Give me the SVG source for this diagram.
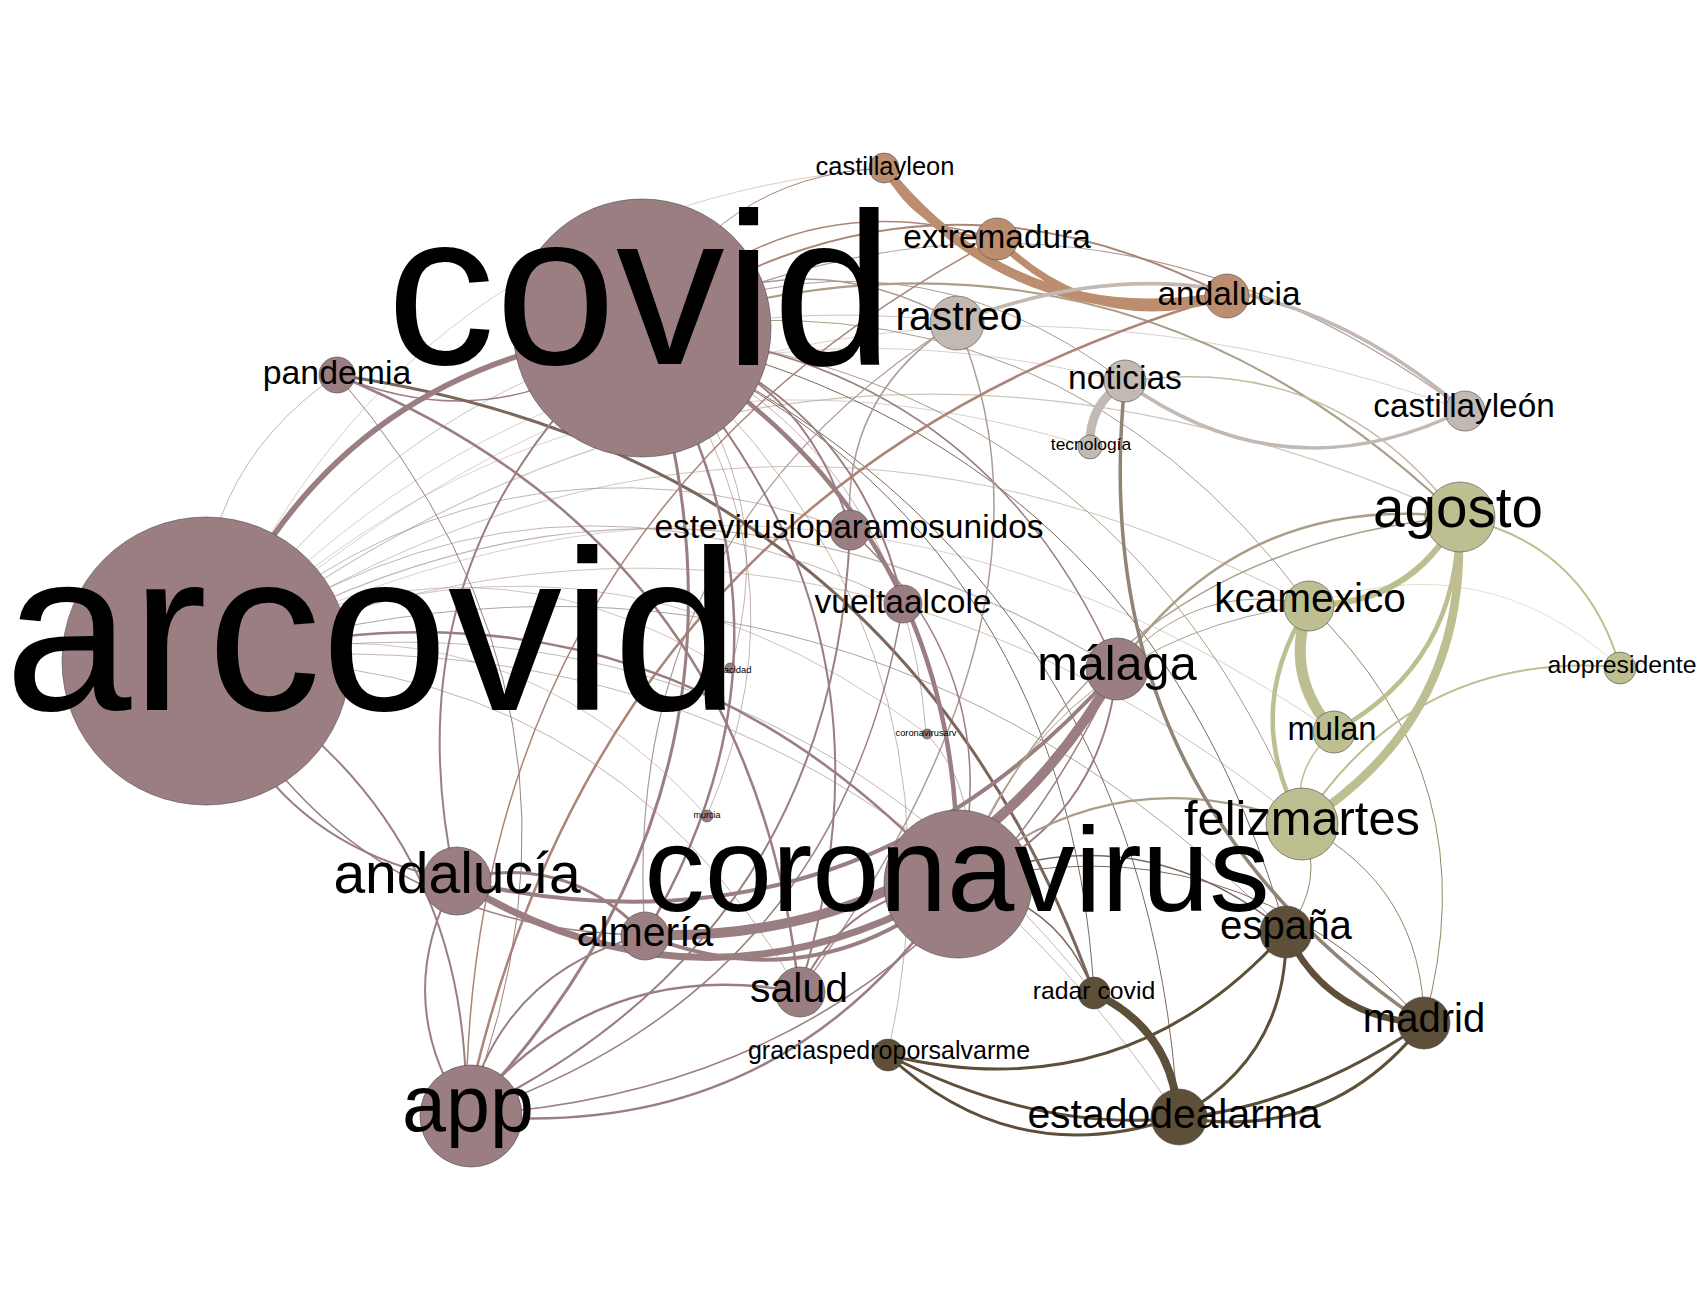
<svg xmlns="http://www.w3.org/2000/svg" width="1700" height="1300" viewBox="0 0 1700 1300">
<style>
.e{fill:none}
.f{stroke-opacity:.6}
.m{stroke:#9b7e81}.t{stroke:#bc8e6f}.g{stroke:#c3b9b3}.o{stroke:#bdbf90}.d{stroke:#5d4f38}
.mt{stroke:#ab8677}.mg{stroke:#ae9b99}.mo{stroke:#ab9e88}.md{stroke:#7c675d}.gd{stroke:#908475}.od{stroke:#8d8864}.go{stroke:#c0bba1}
circle{stroke:#4a4a4a;stroke-width:.6}
.M{fill:#9b7e81}.T{fill:#bc8e6f}.G{fill:#c3b9b3}.O{fill:#bdbf90}.D{fill:#5d4f38}
text{font-family:"Liberation Sans",Arial,sans-serif;fill:#000;text-anchor:middle}
</style>
<rect width="1700" height="1300" fill="#fff"/>
<g id="edges" class="e">
<path class="m f" stroke-width="0.8" d="M730 671 Q471 509 206 661"/>
<path class="m f" stroke-width="0.8" d="M926 733 Q588 481 206 661"/>
<path class="m f" stroke-width="0.8" d="M707 816 Q503 588 206 661"/>
<path class="mt f" stroke-width="0.7" d="M884 168 Q397 211 206 661"/>
<path class="mg f" stroke-width="0.8" d="M1125 382 Q582 246 206 661"/>
<path class="mg f" stroke-width="0.8" d="M1090 447 Q584 289 206 661"/>
<path class="mg f" stroke-width="0.8" d="M1464 410 Q760 158 206 661"/>
<path class="mg f" stroke-width="1" d="M957 322 Q480 266 206 661"/>
<path class="mo f" stroke-width="1.2" d="M1458 517 Q789 213 206 661"/>
<path class="mo f" stroke-width="1" d="M1309 605 Q741 302 206 661"/>
<path class="m f" stroke-width="1.2" d="M1117 669 Q664 392 206 661"/>
<path class="mo f" stroke-width="1" d="M1302 824 Q803 414 206 661"/>
<path class="m f" stroke-width="1" d="M850 530 Q489 402 206 661"/>
<path class="m f" stroke-width="1" d="M903 604 Q537 423 206 661"/>
<path class="md f" stroke-width="1" d="M1286 932 Q827 473 206 661"/>
<path class="mo f" stroke-width="0.8" d="M1334 732 Q791 358 206 661"/>
<path class="md f" stroke-width="0.8" d="M1094 993 Q750 561 206 661"/>
<path class="md f" stroke-width="0.8" d="M1178 1117 Q829 597 206 661"/>
<path class="m f" stroke-width="1" d="M799 992 Q602 649 206 661"/>
<path class="m f" stroke-width="1" d="M337 375 Q186 479 206 661"/>
<path class="m f" stroke-width="1" d="M926 733 Q905 446 642 330"/>
<path class="m f" stroke-width="1" d="M730 671 Q788 474 642 330"/>
<path class="m f" stroke-width="1" d="M707 816 Q820 554 642 330"/>
<path class="m f" stroke-width="1" d="M957 884 Q987 799 926 733"/>
<path class="md f" stroke-width="0.8" d="M888 1055 Q983 619 642 330"/>
<path class="mg" stroke-width="1" d="M1125 382 Q899 211 642 330"/>
<path class="mg" stroke-width="1.2" d="M1464 410 Q1077 123 642 330"/>
<path class="mo" stroke-width="1" d="M1309 605 Q1058 267 642 330"/>
<path class="mo" stroke-width="1" d="M1302 824 Q1120 379 642 330"/>
<path class="md" stroke-width="1" d="M1094 993 Q1067 526 642 330"/>
<path class="md" stroke-width="1" d="M1286 932 Q1145 438 642 330"/>
<path class="md" stroke-width="1" d="M1178 1117 Q1146 563 642 330"/>
<path class="mt" stroke-width="1" d="M884 168 Q714 176 642 330"/>
<path class="mt" stroke-width="1.5" d="M997 239 Q792 178 642 330"/>
<path class="mt" stroke-width="2" d="M1227 296 Q924 138 642 330"/>
<path class="mg" stroke-width="1.5" d="M957 322 Q797 232 642 330"/>
<path class="m" stroke-width="1.5" d="M1117 669 Q981 357 642 330"/>
<path class="mo" stroke-width="2" d="M1458 517 Q1106 179 642 330"/>
<path class="go" stroke-width="1.5" d="M1458 517 Q1332 350 1125 382"/>
<path class="mg" stroke-width="1.5" d="M799 992 Q1079 610 957 322"/>
<path class="mg" stroke-width="1.5" d="M957 322 Q841 394 850 530"/>
<path class="mg" stroke-width="1.2" d="M957 322 Q617 535 645 935"/>
<path class="mt" stroke-width="1.5" d="M997 239 Q469 518 466 1115"/>
<path class="mt" stroke-width="2.5" d="M1227 296 Q601 477 466 1115"/>
<path class="m" stroke-width="1" d="M466 1115 Q624 706 337 375"/>
<path class="m" stroke-width="1.5" d="M337 375 Q503 444 642 330"/>
<path class="m" stroke-width="2.5" d="M799 992 Q753 545 337 375"/>
<path class="md" stroke-width="3" d="M1094 993 Q901 457 337 375"/>
<path class="m" stroke-width="2" d="M642 330 Q384 549 455 880"/>
<path class="m" stroke-width="1.5" d="M957 884 Q1010 675 850 530"/>
<path class="m" stroke-width="2" d="M206 661 Q265 845 455 880"/>
<path class="m" stroke-width="1.5" d="M206 661 Q343 930 645 935"/>
<path class="m" stroke-width="2" d="M466 1115 Q472 810 206 661"/>
<path class="m" stroke-width="2" d="M455 880 Q390 1001 466 1115"/>
<path class="m" stroke-width="2.5" d="M799 992 Q596 954 466 1115"/>
<path class="m" stroke-width="2.5" d="M466 1115 Q781 1147 957 884"/>
<path class="m" stroke-width="1.5" d="M466 1115 Q925 1087 1117 669"/>
<path class="m" stroke-width="2" d="M645 935 Q502 971 466 1115"/>
<path class="m" stroke-width="2" d="M466 1115 Q834 938 850 530"/>
<path class="m" stroke-width="1.5" d="M466 1115 Q838 991 903 604"/>
<path class="m" stroke-width="2" d="M957 884 Q846 891 799 992"/>
<path class="m" stroke-width="2" d="M799 992 Q919 614 642 330"/>
<path class="m" stroke-width="2" d="M850 530 Q806 368 642 330"/>
<path class="m" stroke-width="2" d="M903 604 Q855 389 642 330"/>
<path class="m" stroke-width="2.5" d="M645 935 Q825 632 642 330"/>
<path class="m" stroke-width="3" d="M466 1115 Q790 775 642 330"/>
<path class="m" stroke-width="2.5" d="M957 884 Q648 547 206 661"/>
<path class="m" stroke-width="4.5" d="M957 884 Q966 513 642 330"/>
<path class="m" stroke-width="5.5" d="M642 330 Q325 365 206 661"/>
<path class="m" stroke-width="3" d="M645 935 Q567 851 455 880"/>
<path class="m" stroke-width="4" d="M645 935 Q816 1003 957 884"/>
<path class="m" stroke-width="7" d="M455 880 Q705 1033 957 884"/>
<path class="m" stroke-width="4" d="M455 880 Q849 973 1117 669"/>
<path class="m" stroke-width="2" d="M957 884 Q1102 825 1117 669"/>
<path class="m" stroke-width="10" d="M645 935 Q961 944 1117 669"/>
<path class="mo" stroke-width="1" d="M1309 605 Q1194 579 1117 669"/>
<path class="mo" stroke-width="1" d="M1309 605 Q1049 639 957 884"/>
<path class="mo" stroke-width="1.5" d="M1458 517 Q1097 550 957 884"/>
<path class="mo" stroke-width="2.5" d="M1458 517 Q1242 491 1117 669"/>
<path class="mo" stroke-width="2" d="M1302 824 Q1112 751 957 884"/>
<path class="md" stroke-width="1" d="M1424 1023 Q1232 813 957 884"/>
<path class="md" stroke-width="1.5" d="M1286 932 Q1136 809 957 884"/>
<path class="md" stroke-width="1.5" d="M1094 993 Q1058 897 957 884"/>
<path class="t" stroke-width="3" d="M884 168 Q919 237 997 239"/>
<path class="t" stroke-width="7" d="M997 239 Q1095 337 1227 296"/>
<path class="t" stroke-width="9.5" d="M884 168 Q1017 335 1227 296"/>
<path class="g" stroke-width="3.5" d="M1464 410 Q1237 214 957 322"/>
<path class="g" stroke-width="3.5" d="M1125 382 Q1286 498 1464 410"/>
<path class="g" stroke-width="9" d="M1125 382 Q1088 404 1090 447"/>
<path class="o f" stroke-width="0.8" d="M1620 667 Q1483 543 1309 605"/>
<path class="od" stroke-width="1" d="M1424 1023 Q1492 780 1309 605"/>
<path class="od" stroke-width="1" d="M1424 1023 Q1423 887 1302 824"/>
<path class="od" stroke-width="1" d="M1286 932 Q1326 883 1302 824"/>
<path class="o" stroke-width="2" d="M1620 667 Q1414 650 1302 824"/>
<path class="o" stroke-width="2" d="M1620 667 Q1584 543 1458 517"/>
<path class="o" stroke-width="1.5" d="M1334 732 Q1290 768 1302 824"/>
<path class="o" stroke-width="4.5" d="M1334 732 Q1461 662 1458 517"/>
<path class="o" stroke-width="4.5" d="M1309 605 Q1240 712 1302 824"/>
<path class="o" stroke-width="6" d="M1309 605 Q1410 606 1458 517"/>
<path class="o" stroke-width="8.5" d="M1302 824 Q1472 717 1458 517"/>
<path class="o" stroke-width="11" d="M1309 605 Q1283 676 1334 732"/>
<path class="gd" stroke-width="3.5" d="M1125 382 Q1082 792 1424 1023"/>
<path class="d" stroke-width="3" d="M888 1055 Q1124 1113 1286 932"/>
<path class="d" stroke-width="3" d="M888 1055 Q1014 1173 1178 1117"/>
<path class="d" stroke-width="3" d="M888 1055 Q1166 1200 1424 1023"/>
<path class="d" stroke-width="3" d="M1178 1117 Q1329 1144 1424 1023"/>
<path class="d" stroke-width="3" d="M1178 1117 Q1288 1057 1286 932"/>
<path class="d" stroke-width="6.5" d="M1286 932 Q1328 1019 1424 1023"/>
<path class="d" stroke-width="8" d="M1178 1117 Q1173 1030 1094 993"/>
</g>
<g id="nodes">
<g id="n-privacidad"><circle class="M" cx="730" cy="668" r="5"/><text x="730" y="673" font-size="9.4">privacidad</text></g>
<g id="n-coronavirusarv"><circle class="M" cx="927" cy="734" r="5"/><text x="926" y="736" font-size="9.3">coronavirusarv</text></g>
<g id="n-murcia"><circle class="M" cx="707" cy="816" r="6"/><text x="707" y="818" font-size="9">murcia</text></g>
<g id="n-tecnologia"><circle class="G" cx="1090" cy="447" r="12"/><text x="1091" y="450" font-size="17.4">tecnología</text></g>
<g id="n-castillayleon"><circle class="T" cx="884" cy="168" r="15"/><text x="885" y="175" font-size="25.5">castillayleon</text></g>
<g id="n-alopresidente"><circle class="O" cx="1620" cy="668" r="16"/><text x="1622" y="673" font-size="24.8">alopresidente</text></g>
<g id="n-radarcovid"><circle class="D" cx="1094" cy="993" r="16"/><text x="1094" y="999" font-size="24.8">radar covid</text></g>
<g id="n-graciaspedroporsalvarme"><circle class="D" cx="888" cy="1055" r="16"/><text x="889" y="1059" font-size="25">graciaspedroporsalvarme</text></g>
<g id="n-pandemia"><circle class="M" cx="337" cy="375" r="18"/><text x="337" y="384" font-size="33.8">pandemia</text></g>
<g id="n-vueltaalcole"><circle class="M" cx="903" cy="604" r="19"/><text x="903" y="613" font-size="33.5">vueltaalcole</text></g>
<g id="n-castillayleon2"><circle class="G" cx="1465" cy="411" r="20"/><text x="1464" y="417" font-size="33.3">castillayleón</text></g>
<g id="n-estevirusloparamosunidos"><circle class="M" cx="850" cy="530" r="20"/><text x="849" y="538" font-size="33.5">estevirusloparamosunidos</text></g>
<g id="n-extremadura"><circle class="T" cx="997" cy="239" r="21"/><text x="997" y="248" font-size="33.4">extremadura</text></g>
<g id="n-noticias"><circle class="G" cx="1125" cy="381" r="21"/><text x="1125" y="389" font-size="33.6">noticias</text></g>
<g id="n-mulan"><circle class="O" cx="1334" cy="732" r="21"/><text x="1332" y="740" font-size="32.7">mulan</text></g>
<g id="n-andalucia"><circle class="T" cx="1227" cy="296" r="22"/><text x="1229" y="305" font-size="33.4">andalucia</text></g>
<g id="n-almeria"><circle class="M" cx="645" cy="936" r="24"/><text x="645" y="946" font-size="41">almería</text></g>
<g id="n-salud"><circle class="M" cx="800" cy="992" r="25"/><text x="799" y="1002" font-size="41">salud</text></g>
<g id="n-kcamexico"><circle class="O" cx="1309" cy="606" r="25"/><text x="1310" y="612" font-size="40.6">kcamexico</text></g>
<g id="n-espana"><circle class="D" cx="1286" cy="932" r="26"/><text x="1286" y="939" font-size="40.2">españa</text></g>
<g id="n-madrid"><circle class="D" cx="1424" cy="1023" r="26"/><text x="1424" y="1032" font-size="40">madrid</text></g>
<g id="n-rastreo"><circle class="G" cx="957" cy="323" r="27"/><text x="959" y="330" font-size="40.8">rastreo</text></g>
<g id="n-estadodealarma"><circle class="D" cx="1179" cy="1117" r="28"/><text x="1174" y="1128" font-size="40.9">estadodealarma</text></g>
<g id="n-malaga"><circle class="M" cx="1117" cy="669" r="31"/><text x="1117" y="680" font-size="48.6">málaga</text></g>
<g id="n-andalucia-tilde"><circle class="M" cx="457" cy="881" r="34"/><text x="457" y="893" font-size="57">andalucía</text></g>
<g id="n-agosto"><circle class="O" cx="1460" cy="517" r="35"/><text x="1458" y="527" font-size="56.6">agosto</text></g>
<g id="n-felizmartes"><circle class="O" cx="1302" cy="824" r="36"/><text x="1302" y="835" font-size="48.8">felizmartes</text></g>
<g id="n-app"><circle class="M" cx="471" cy="1116" r="51"/><text x="468" y="1131" font-size="79">app</text></g>
<g id="n-coronavirus"><circle class="M" cx="958" cy="884" r="74"/><text x="957" y="911" font-size="121">coronavirus</text></g>
<g id="n-covid"><circle class="M" cx="642" cy="328" r="129"/><text x="640" y="364" font-size="217">covid</text></g>
<g id="n-arcovid"><circle class="M" cx="206" cy="661" r="144"/><text x="372" y="710" font-size="228">arcovid</text></g>
</g>
</svg>
